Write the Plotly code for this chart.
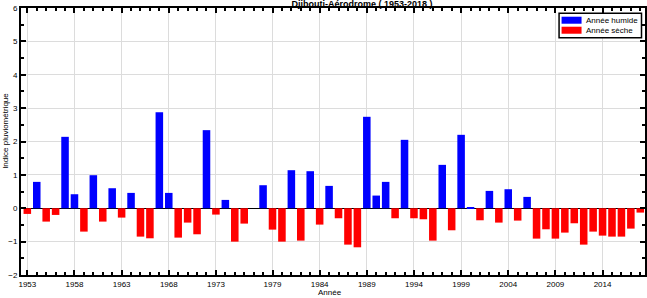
import plotly.graph_objects as go

years = list(range(1953, 2019))
indice = [
    -0.17, 0.79, -0.40, -0.20, 2.14, 0.42, -0.70, 0.99, -0.40, 0.60,
    -0.28, 0.46, -0.85, -0.90, 2.88, 0.46, -0.88, -0.43, -0.78, 2.34,
    -0.19, 0.25, -1.00, -0.46, 0.00, 0.69, -0.64, -1.00, 1.14, -0.97,
    1.11, -0.49, 0.67, -0.30, -1.09, -1.17, 2.74, 0.38, 0.79, -0.30,
    2.05, -0.30, -0.33, -0.97, 1.30, -0.66, 2.20, 0.02, -0.36, 0.52,
    -0.43, 0.57, -0.37, 0.34, -0.91, -0.63, -0.91, -0.73, -0.45, -1.09,
    -0.70, -0.82, -0.85, -0.85, -0.61, -0.13,
]
tick_years = [1953, 1958, 1963, 1968, 1973, 1979, 1984, 1989, 1994, 1999, 2004, 2009, 2014]
series_names = ["Année humide", "Année sèche"]
series_colors = ["#0000ff", "#ff0000"]

humid_x = [y for y, v in zip(years, indice) if v > 0]
humid_y = [v for v in indice if v > 0]
dry_x = [y for y, v in zip(years, indice) if v < 0]
dry_y = [v for v in indice if v < 0]

W, H = 647, 298
L, R, T, B = 21, 1.5, 8.3, 23
PW, PH = W - L - R, H - T - B


def px(x):
    return (x - L) / PW


def py(y):
    return (H - B - y) / PH


fig = go.Figure()
fig.add_trace(go.Bar(x=humid_x, y=humid_y, name=series_names[0],
                     marker=dict(color=series_colors[0], line=dict(width=0)), width=0.8))
fig.add_trace(go.Bar(x=dry_x, y=dry_y, name=series_names[1],
                     marker=dict(color=series_colors[1], line=dict(width=0)), width=0.8))

font = "Liberation Sans, Arial, sans-serif"
shapes = []
annotations = []
# legend box
shapes.append(dict(type="rect", xref="paper", yref="paper",
                   x0=px(559.5), x1=px(642), y0=py(38), y1=py(13.5),
                   line=dict(color="black", width=1.5), fillcolor="white", layer="above"))
for i, (nm, col) in enumerate(zip(series_names, series_colors)):
    yt = 17 + i * 10
    shapes.append(dict(type="rect", xref="paper", yref="paper",
                       x0=px(562), x1=px(582), y0=py(yt + 7), y1=py(yt),
                       line=dict(width=0), fillcolor=col, layer="above"))
    annotations.append(dict(text=nm, xref="paper", yref="paper", x=px(584), y=py(yt + 3.5),
                            xanchor="left", yanchor="middle", showarrow=False,
                            font=dict(size=8, family=font, color="black")))
# axis titles
annotations.append(dict(text="Année", xref="paper", yref="paper", x=px(330), y=py(292),
                        xanchor="center", yanchor="middle", showarrow=False,
                        font=dict(size=8, family=font)))
annotations.append(dict(text="Indice pluviométrique", xref="paper", yref="paper", x=px(6), y=py(131),
                        xanchor="center", yanchor="middle", showarrow=False, textangle=-90,
                        font=dict(size=8, family=font)))

fig.update_layout(
    width=W, height=H,
    margin=dict(l=L, r=R, t=T, b=B, autoexpand=False),
    paper_bgcolor="white", plot_bgcolor="white",
    font=dict(family=font, size=8, color="black"),
    barmode="overlay",
    title=dict(text="<b>Djibouti-Aérodrome ( 1953-2018 )</b>", x=362 / W, xanchor="center",
               xref="container", y=1 - 4 / H, yanchor="middle", font=dict(size=9, family=font)),
    showlegend=False,
    shapes=shapes,
    annotations=annotations,
)
fig.update_xaxes(
    range=[1952.33, 2018.5], automargin=False,
    tickmode="array", tickvals=tick_years, ticktext=[str(t) for t in tick_years],
    ticks="inside", ticklen=5, tickwidth=2, tickcolor="black",
    showline=True, linewidth=2, linecolor="black", mirror="ticks",
    showgrid=True, gridcolor="#dcdcdc", gridwidth=1.2,
    minor=dict(tickmode="linear", tick0=1953, dtick=1, ticks="inside", ticklen=3,
               tickwidth=1.5, tickcolor="black", showgrid=False),
    tickfont=dict(size=8),
    zeroline=False,
)
fig.update_yaxes(
    range=[-2, 6], automargin=False,
    tickmode="linear", tick0=-2, dtick=1,
    ticks="inside", ticklen=5, tickwidth=2, tickcolor="black",
    showline=True, linewidth=2, linecolor="black", mirror="ticks",
    showgrid=True, gridcolor="#dcdcdc", gridwidth=1.2,
    minor=dict(tickmode="linear", tick0=-2, dtick=0.5, ticks="inside", ticklen=3,
               tickwidth=1.5, tickcolor="black", showgrid=False),
    tickfont=dict(size=8),
    zeroline=True, zerolinecolor="black", zerolinewidth=1,
)

fig.write_html("out.html", config={"displayModeBar": False},
               post_script="document.body.style.margin='0';document.body.style.overflow='hidden';")
